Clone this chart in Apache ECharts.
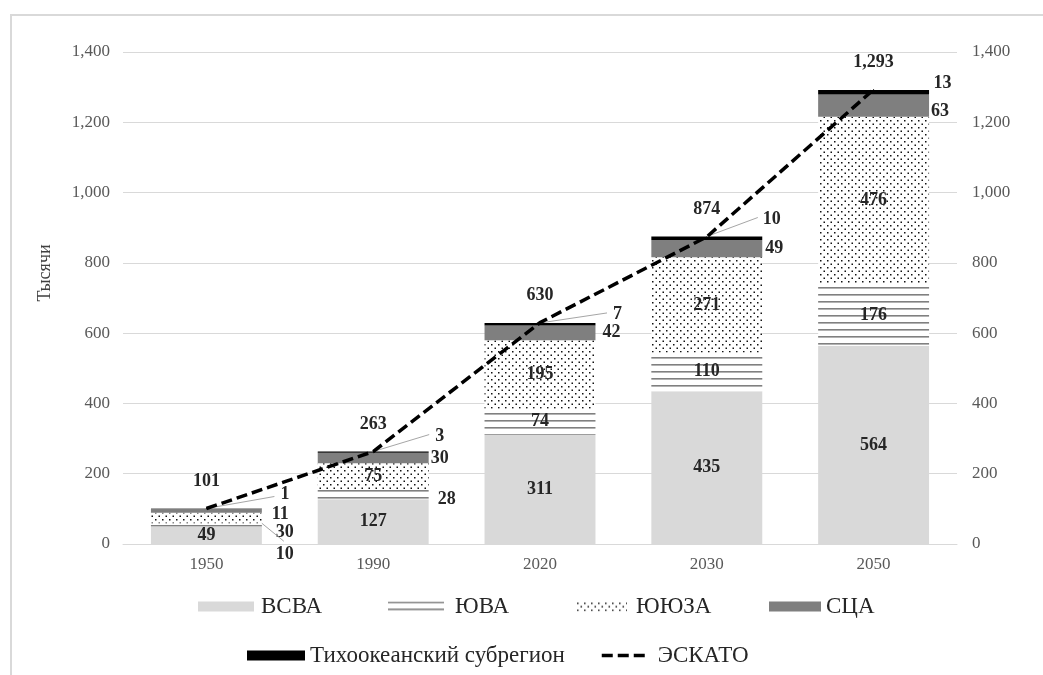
<!DOCTYPE html>
<html>
<head>
<meta charset="utf-8">
<script src="https://cdn.jsdelivr.net/npm/echarts@6/dist/echarts.min.js"></script>
<style>
  html, body { margin: 0; padding: 0; background: #fff; }
  #chart { width: 1043px; height: 675px; }
</style>
</head>
<body>
<div id="chart"></div>
<script>
// Population by subregion, thousands
const years   = ['1950', '1990', '2020', '2030', '2050'];
const vsva    = [49, 127, 311, 435, 564];   // ВСВА
const yuva    = [10, 28, 74, 110, 176];     // ЮВА
const yuyuza  = [30, 75, 195, 271, 476];    // ЮЮЗА
const sca     = [11, 30, 42, 49, 63];       // СЦА
const pacific = [1, 3, 7, 10, 13];          // Тихоокеанский субрегион
const escap   = [101, 263, 630, 874, 1293]; // ЭСКАТО total

const totals = years.map((_, i) => vsva[i] + yuva[i] + yuyuza[i] + sca[i] + pacific[i]);

const SERIF = '"Liberation Serif", "Times New Roman", serif';
const BAR_RATIO = 0.665;
const valueText = { fontFamily: SERIF, fontWeight: 'bold', fontSize: 18, color: '#262626' };
const fmt = v => Number(v).toLocaleString('en-US');

// Fill patterns
function hatchPattern() {
  const c = document.createElement('canvas');
  c.width = 8; c.height = 7;
  const g = c.getContext('2d');
  g.fillStyle = '#fff'; g.fillRect(0, 0, 8, 7);
  g.fillStyle = '#808080'; g.fillRect(0, 0, 8, 1.6);
  return { image: c, repeat: 'repeat' };
}
function dotPattern() {
  const c = document.createElement('canvas');
  c.width = 7; c.height = 7;
  const g = c.getContext('2d');
  g.fillStyle = '#fff'; g.fillRect(0, 0, 7, 7);
  g.fillStyle = '#111';
  g.fillRect(1, 1, 1.5, 1.5);
  g.fillRect(4.5, 4.5, 1.5, 1.5);
  return { image: c, repeat: 'repeat' };
}

// Side labels for narrow segments: [dx from bar's right edge, dy from segment centre]
const YUVA_SIDE   = { 0: [14, 29], 1: [9, 5] };
const YUYUZA_SIDE = { 0: [14, 14] };
const SCA_SIDE    = [[10, 4], [2, 0], [7, 0], [3, 0], [2, 6]];
// Pacific labels relative to the bar's top centre
const PACIFIC_TAG = [[74, -14], [62, -15], [73, -9], [56, -17], [60, -7]];

function sideLayout(table) {
  return p => {
    const s = table[p.dataIndex];
    if (!s) return {};
    const r = p.rect;
    return { x: r.x + r.width + s[0], y: r.y + r.height / 2 + s[1], align: 'left', verticalAlign: 'middle' };
  };
}

// Leader lines: anchor points come from the value axis, ends are offsets
const leaderData = [[0, totals[0]], [1, totals[1]], [2, totals[2]], [3, totals[3]], [0, vsva[0] + yuva[0]]];
const LEADER_STYLE = [
  { edge: 0, dx: 68, dy: -12 },
  { edge: 0, dx: 56, dy: -17 },
  { edge: 0, dx: 67, dy: -10 },
  { edge: 0, dx: 51, dy: -19 },
  { edge: 1, dx: 22, dy: 18 }
];

const chart = echarts.init(document.getElementById('chart'), null, { renderer: 'canvas' });

const legendSlots = [
  { name: 'ВСВА', left: 198, top: 595, w: 56, gap: 2, bar: true },
  { name: 'ЮВА', left: 388, top: 595, w: 56, gap: 6, bar: true },
  { name: 'ЮЮЗА', left: 576, top: 595, w: 51, gap: 4, bar: true },
  { name: 'СЦА', left: 769, top: 595, w: 52, gap: 0, bar: true },
  { name: 'Тихоокеанский субрегион', left: 247, top: 644, w: 58, gap: 0, bar: true },
  { name: 'ЭСКАТО', left: 600, top: 644, w: 47, gap: 4, bar: false }
];

const axisLabelText = { fontFamily: SERIF, fontSize: 17, color: '#595959' };

function legendFor(s) {
  const lg = {
    data: [s.name],
    left: s.left,
    top: s.top,
    padding: 0,
    itemWidth: s.w,
    itemHeight: 10,
    selectedMode: false,
    textStyle: { fontFamily: SERIF, fontSize: 23, color: '#262626', padding: [0, 0, 0, s.gap] }
  };
  if (s.bar) {
    lg.icon = 'rect';
  } else {
    // dashed line only, no marker dot
    lg.itemStyle = { color: 'rgba(0,0,0,0)', borderColor: 'rgba(0,0,0,0)' };
    lg.lineStyle = { color: '#000', width: 3.5, type: [11, 5] };
  }
  return lg;
}

chart.setOption({
  animation: false,
  backgroundColor: '#fff',
  grid: { left: 123, right: 86, top: 52, bottom: 131, outerBoundsMode: 'none' },
  graphic: [
    {
      type: 'rect', z: -10, silent: true,
      shape: { x: 11, y: 15, width: 1100, height: 700 },
      style: { fill: 'none', stroke: '#d9d9d9', lineWidth: 2 }
    },
    {
      type: 'text', silent: true,
      x: 45, y: 273, rotation: Math.PI / 2,
      style: { text: 'Тысячи', fontFamily: SERIF, fontSize: 18, fill: '#404040', align: 'center', verticalAlign: 'middle' }
    }
  ],
  legend: legendSlots.map(legendFor),
  xAxis: {
    type: 'category',
    data: years,
    axisTick: { show: false },
    axisLine: { lineStyle: { color: '#d9d9d9', width: 1 } },
    axisLabel: Object.assign({ margin: 12 }, axisLabelText)
  },
  yAxis: [
    {
      type: 'value', min: 0, max: 1400, interval: 200,
      axisLine: { show: false }, axisTick: { show: false },
      splitLine: { lineStyle: { color: '#d9d9d9', width: 1 } },
      axisLabel: Object.assign({ margin: 13, formatter: fmt }, axisLabelText)
    },
    {
      type: 'value', min: 0, max: 1400, interval: 200, position: 'right',
      axisLine: { show: false }, axisTick: { show: false },
      splitLine: { show: false },
      axisLabel: Object.assign({ margin: 15, formatter: fmt }, axisLabelText)
    }
  ],
  series: [
    {
      name: 'ВСВА', type: 'bar', stack: 'total', barWidth: (BAR_RATIO * 100) + '%',
      data: vsva,
      itemStyle: { color: '#d9d9d9' },
      label: Object.assign({ show: true, position: 'inside' }, valueText)
    },
    {
      name: 'ЮВА', type: 'bar', stack: 'total',
      data: yuva,
      itemStyle: { color: hatchPattern() },
      label: Object.assign({ show: true, position: 'inside' }, valueText),
      labelLayout: sideLayout(YUVA_SIDE)
    },
    {
      name: 'ЮЮЗА', type: 'bar', stack: 'total',
      data: yuyuza,
      itemStyle: { color: dotPattern() },
      label: Object.assign({ show: true, position: 'inside' }, valueText),
      labelLayout: sideLayout(YUYUZA_SIDE)
    },
    {
      name: 'СЦА', type: 'bar', stack: 'total',
      data: sca,
      itemStyle: { color: '#7f7f7f' },
      label: Object.assign({ show: true, position: 'right' }, valueText),
      labelLayout: sideLayout(SCA_SIDE)
    },
    {
      name: 'Тихоокеанский субрегион', type: 'bar', stack: 'total',
      data: pacific,
      itemStyle: { color: '#000' },
      label: Object.assign({ show: true, position: 'top' }, valueText),
      labelLayout: p => {
        const t = PACIFIC_TAG[p.dataIndex];
        const r = p.rect;
        return { x: r.x + r.width / 2 + t[0], y: r.y + t[1], align: 'left', verticalAlign: 'middle' };
      }
    },
    {
      name: 'leaders', type: 'custom', silent: true, z: 4,
      data: leaderData,
      encode: { x: 0, y: 1 },
      renderItem: (params, api) => {
        const st = LEADER_STYLE[params.dataIndex];
        const p = api.coord([api.value(0), api.value(1)]);
        const half = api.size([1, 0])[0] * BAR_RATIO / 2;
        const x0 = p[0] + st.edge * half;
        return {
          type: 'polyline',
          shape: { points: [[x0, p[1]], [x0 + st.dx, p[1] + st.dy]] },
          style: { stroke: '#a6a6a6', lineWidth: 1, fill: null }
        };
      }
    },
    {
      name: 'ЭСКАТО', type: 'line', z: 6,
      data: escap,
      symbol: 'circle',
      symbolSize: 1,
      showSymbol: true,
      lineStyle: { color: '#000', width: 3.5, type: [11, 5] },
      itemStyle: { color: '#000' },
      label: Object.assign({ show: true, position: 'top', distance: 18, formatter: p => fmt(p.value) }, valueText)
    }
  ]
});
</script>
</body>
</html>
